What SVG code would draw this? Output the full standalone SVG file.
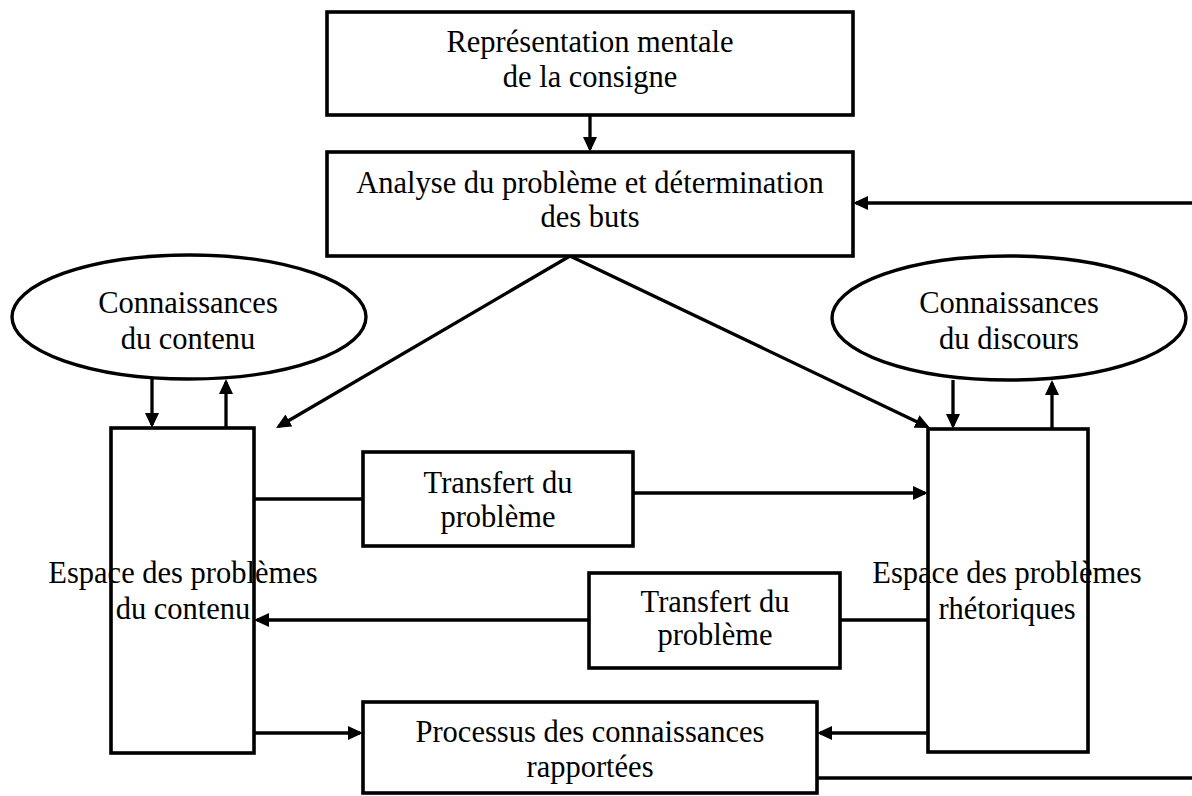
<svg xmlns="http://www.w3.org/2000/svg" width="1192" height="796" viewBox="0 0 1192 796">
  <style>
    .box { fill: #ffffff; stroke: #000000; stroke-width: 3.6; }
    .oval { fill: #ffffff; stroke: #000000; stroke-width: 3.4; }
    .lbl { font-family: "Liberation Serif", "Times New Roman", serif; font-size: 30.5px; fill: #000000; text-anchor: middle; }
    .wire { fill: none; stroke: #000000; stroke-width: 3.3; }
    .arrow { marker-end: url(#head); }
  </style>
  <defs>
    <marker id="head" markerUnits="userSpaceOnUse" markerWidth="16" markerHeight="16" refX="12" refY="7.5" orient="auto">
      <path d="M0,0.5 L15,7.5 L0,14.5 z" fill="#000000"/>
    </marker>
  </defs>
  <rect width="1192" height="796" fill="#ffffff"/>

  <!-- connectors -->
  <g id="connectors">
    <path class="wire arrow" d="M590,115 V149"/>
    <path class="wire arrow" d="M570,256 L278.6,426.5"/>
    <path class="wire arrow" d="M570,256 L927.3,426.7"/>
    <path class="wire arrow" d="M152,379 V425"/>
    <path class="wire arrow" d="M226,428 V382"/>
    <path class="wire arrow" d="M953,380 V426"/>
    <path class="wire arrow" d="M1052,429 V383"/>
    <path class="wire" d="M254,499 H363"/>
    <path class="wire arrow" d="M633,493 H925"/>
    <path class="wire" d="M928,620 H840"/>
    <path class="wire arrow" d="M589,620 H257"/>
    <path class="wire arrow" d="M254,733 H360"/>
    <path class="wire arrow" d="M928,733 H820"/>
    <path class="wire" d="M817,778 H1192"/>
    <path class="wire arrow" d="M1192,203 H856"/>
  </g>

  <g id="representation">
    <rect class="box" x="327" y="12" width="526" height="103"/>
    <text class="lbl" x="590" y="52">Représentation mentale</text>
    <text class="lbl" x="590" y="87">de la consigne</text>
  </g>

  <g id="analyse">
    <rect class="box" x="327" y="152" width="526" height="104"/>
    <text class="lbl" x="590" y="193">Analyse du problème et détermination</text>
    <text class="lbl" x="590" y="227">des buts</text>
  </g>

  <g id="connaissances-contenu">
    <ellipse class="oval" cx="189" cy="317" rx="177" ry="62"/>
    <text class="lbl" x="188" y="313">Connaissances</text>
    <text class="lbl" x="188" y="349">du contenu</text>
  </g>

  <g id="connaissances-discours">
    <ellipse class="oval" cx="1009" cy="318" rx="177" ry="62"/>
    <text class="lbl" x="1009" y="313">Connaissances</text>
    <text class="lbl" x="1009" y="349">du discours</text>
  </g>

  <g id="espace-contenu">
    <rect class="box" x="111" y="428" width="143" height="325"/>
    <text class="lbl" x="183" y="583">Espace des problèmes</text>
    <text class="lbl" x="183" y="619">du contenu</text>
  </g>

  <g id="espace-rhetorique">
    <rect class="box" x="928" y="429" width="160" height="323"/>
    <text class="lbl" x="1007" y="583">Espace des problèmes</text>
    <text class="lbl" x="1007" y="619">rhétoriques</text>
  </g>

  <g id="transfert-1">
    <rect class="box" x="363" y="452" width="270" height="94"/>
    <text class="lbl" x="498" y="493">Transfert du</text>
    <text class="lbl" x="498" y="527">problème</text>
  </g>

  <g id="transfert-2">
    <rect class="box" x="589" y="573" width="251" height="95"/>
    <text class="lbl" x="715" y="612">Transfert du</text>
    <text class="lbl" x="715" y="645">problème</text>
  </g>

  <g id="processus">
    <rect class="box" x="363" y="702" width="454" height="91"/>
    <text class="lbl" x="590" y="742">Processus des connaissances</text>
    <text class="lbl" x="590" y="777">rapportées</text>
  </g>
</svg>
